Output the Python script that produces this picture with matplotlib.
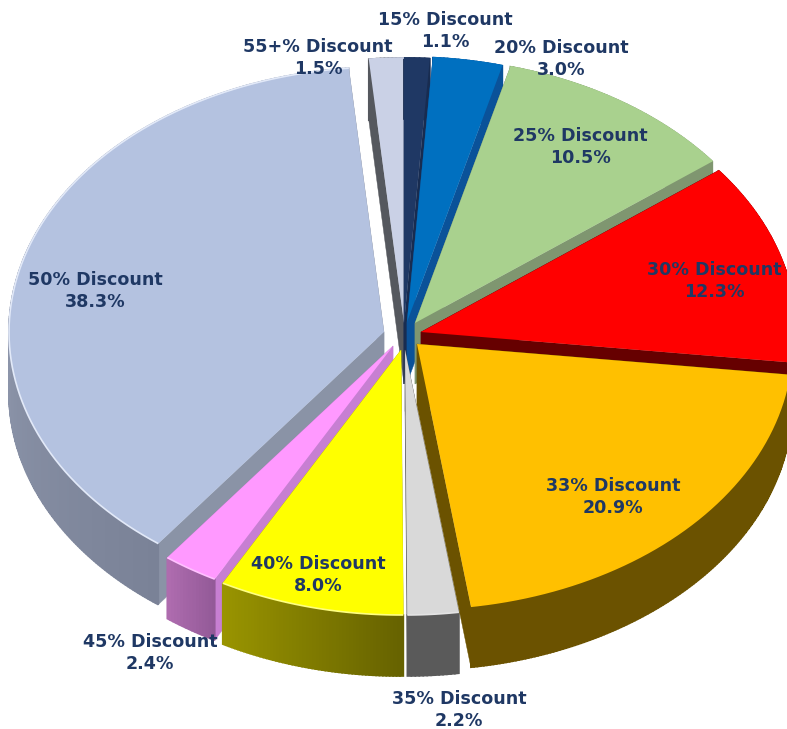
import matplotlib
matplotlib.use("Agg")
import matplotlib.pyplot as plt
from matplotlib.colors import to_rgb
import numpy as np

CATEGORIES = ["15% Discount", "20% Discount", "25% Discount", "30% Discount", "33% Discount",
              "35% Discount", "40% Discount", "45% Discount", "50% Discount", "55+% Discount"]
SHARES = [1.1, 3.0, 10.5, 12.3, 20.9, 2.2, 8.0, 2.4, 38.3, 1.5]

TOP_COLORS = ["#1f3864", "#0070c0", "#a9d18e", "#ff0000", "#ffc000",
              "#d9d9d9", "#ffff00", "#ff99ff", "#b4c2e0", "#cad1e6"]
EDGE_COLORS = ["#182c50", "#0a5299", "#7f9670", "#660000", "#6b5200",
               "#5a5a5a", "#b8b800", "#c77fd2", "#8a93a6", "#55585e"]
# wall colour at the start and the end of each slice's arc
WALL_START = ["#182c50", "#0a5299", "#7f9670", "#660000", "#6b5200",
              "#5a5a5a", "#666200", "#935a98", "#7a8297", "#55585e"]
WALL_END = ["#182c50", "#0a5299", "#7f9670", "#660000", "#6b5200",
            "#5a5a5a", "#9a9500", "#b06db0", "#a6afc4", "#55585e"]
RIM_COLORS = ["#1f3864", "#0070c0", "#a9d18e", "#ff0000", "#ffc000",
              "#e4e4e4", "#ffff80", "#ffc0ff", "#e2e9f8", "#cad1e6"]

# where each exploded slice has its tip on the top face
TIP_X = [404, 407, 415, 421, 417, 405, 401, 393, 384, 404]
TIP_Y = [323, 322, 323, 332, 344, 350, 350, 346, 332, 323]
LABEL_X = [445, 561, 580, 714, 613, 459, 318, 150, 95, 318]
LABEL_Y = [31, 59, 147, 281, 497, 710, 575, 653, 291, 58]
DRAW_ORDER = [9, 8, 0, 1, 2, 3, 7, 6, 5, 4]

RX = 375
RY = 265
DEPTH = 61


def rim_point(i, angle):
    a = np.radians(angle)
    return TIP_X[i] + RX * np.sin(a), TIP_Y[i] - RY * np.cos(a)


def draw_slice(ax, i, start, end):
    angles = np.linspace(start, end, max(int(end - start) * 2, 6))
    xs, ys = rim_point(i, angles)
    # radial walls
    for k in [0, -1]:
        ax.fill([TIP_X[i], xs[k], xs[k], TIP_X[i]],
                [TIP_Y[i], ys[k], ys[k] + DEPTH, TIP_Y[i] + DEPTH],
                color=EDGE_COLORS[i], lw=0.3)
    # outer wall, shaded piece by piece along the arc
    c0 = np.array(to_rgb(WALL_START[i]))
    c1 = np.array(to_rgb(WALL_END[i]))
    for k in range(len(angles) - 1):
        t = k / (len(angles) - 1)
        ax.fill([xs[k], xs[k + 1], xs[k + 1], xs[k]],
                [ys[k], ys[k + 1], ys[k + 1] + DEPTH, ys[k] + DEPTH],
                color=c0 + (c1 - c0) * t, lw=1.2)
    ax.fill(np.r_[TIP_X[i], xs], np.r_[TIP_Y[i], ys], color=TOP_COLORS[i], lw=0)
    ax.plot(xs, ys, color=RIM_COLORS[i], lw=1.2, solid_capstyle="butt")


def main():
    fig = plt.figure(figsize=(7.87, 7.29), dpi=100)
    ax = fig.add_axes([0, 0, 1, 1])
    ax.set_xlim(0, 787)
    ax.set_ylim(729, 0)
    ax.axis("off")

    cum = np.cumsum(np.r_[0, SHARES]) / sum(SHARES) * 360
    for i in DRAW_ORDER:
        draw_slice(ax, i, cum[i], cum[i + 1])

    for i, name in enumerate(CATEGORIES):
        ax.text(LABEL_X[i], LABEL_Y[i], f"{name}\n{SHARES[i]:.1f}%", ha="center", va="center",
                color="#1f3864", fontsize=12.6, fontweight="bold", linespacing=1.3)

    fig.savefig("out.png", dpi=100)


if __name__ == "__main__":
    main()
